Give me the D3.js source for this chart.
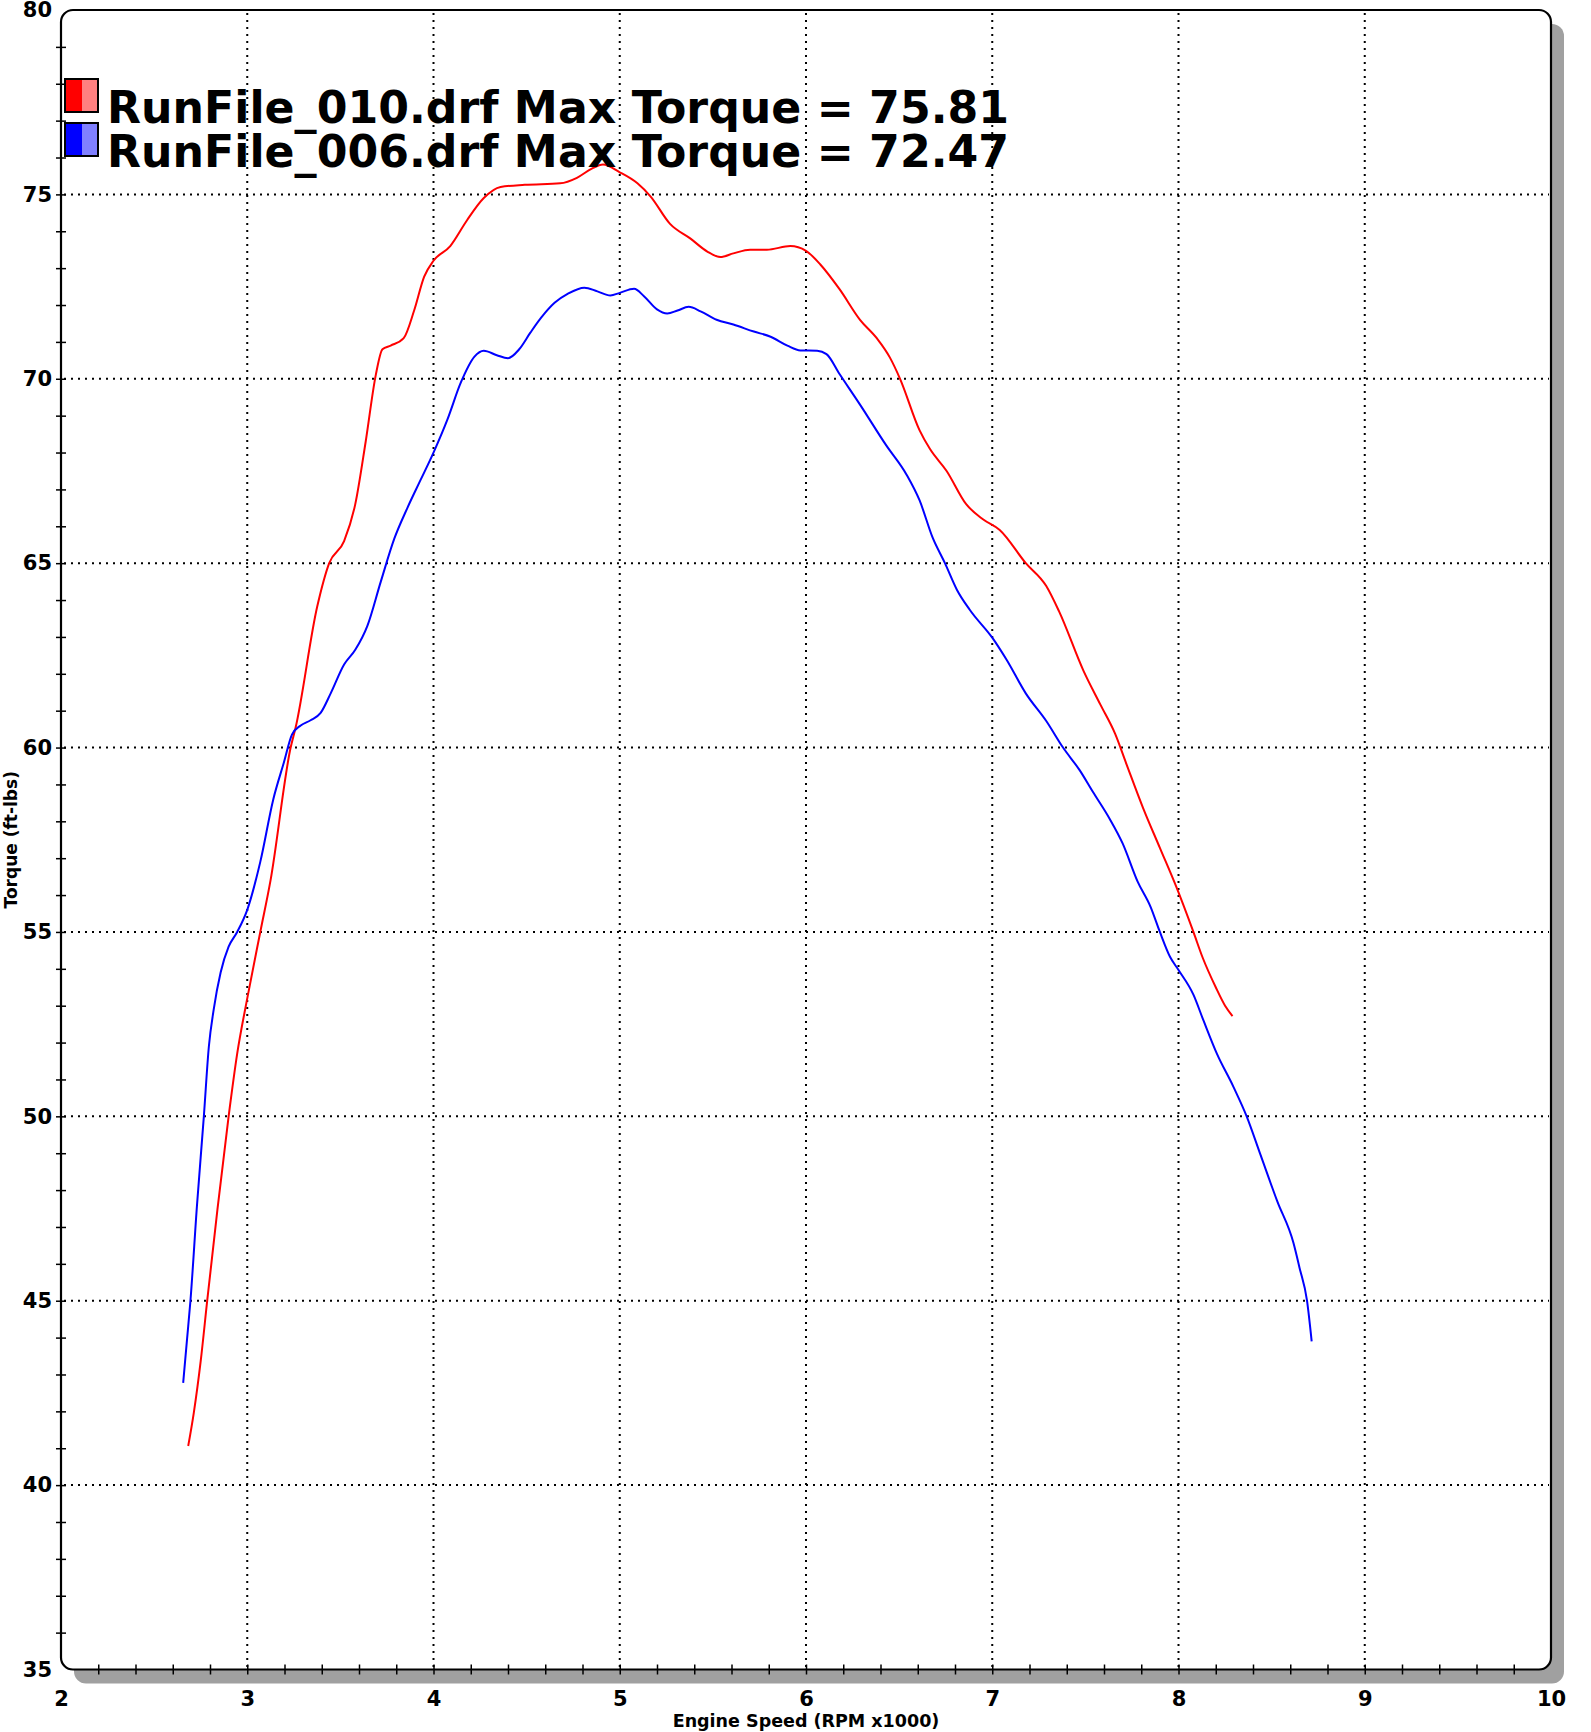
<!DOCTYPE html>
<html>
<head>
    <script src="https://d3js.org/d3.v7.min.js"></script>
    <style>
      body { margin: 0; background: #fff; }
      text { font-family: "DejaVu Sans", Verdana, sans-serif; font-weight: bold; }
    </style>
</head>
<body>

<script>
  var width = 1591;
  var height = 1732;

  // runs
  var runNames = ["RunFile_010.drf", "RunFile_006.drf"];
  var maxTorque = [75.81, 72.47];
  var runColors = ["#ff0000", "#0000ff"];
  var runLight = ["#ff8080", "#8080ff"];

  // RunFile_010 (red)
  var rpm010 = [2.683, 2.713, 2.75, 2.785, 2.84, 2.90, 2.946, 3.0, 3.07, 3.125, 3.233, 3.26, 3.376, 3.44,
    3.52, 3.58, 3.636, 3.69, 3.726, 3.77, 3.84, 3.896, 3.95, 4.0, 4.09, 4.18, 4.27, 4.36, 4.49, 4.68,
    4.77, 4.85, 4.91, 5.0, 5.095, 5.166, 5.27, 5.38, 5.47, 5.54, 5.61, 5.70, 5.79, 5.916, 6.0, 6.077,
    6.18, 6.29, 6.38, 6.45, 6.505, 6.61, 6.665, 6.755, 6.86, 6.95, 7.04, 7.18, 7.29, 7.36, 7.49, 7.58,
    7.66, 7.72, 7.81, 7.90, 7.99, 8.08, 8.13, 8.2, 8.25, 8.29];
  var tq010 = [41.06, 41.96, 43.36, 45.0, 47.48, 50.0, 51.7, 53.2, 55.0, 56.4, 60.0, 60.55, 63.83, 65.0,
    65.6, 66.6, 68.3, 70.1, 70.8, 70.9, 71.1, 71.85, 72.77, 73.2, 73.6, 74.3, 74.9, 75.2, 75.26, 75.3,
    75.45, 75.7, 75.81, 75.6, 75.3, 74.94, 74.2, 73.8, 73.45, 73.3, 73.4, 73.5, 73.5, 73.6, 73.47, 73.1,
    72.43, 71.6, 71.1, 70.58, 70.0, 68.6, 68.1, 67.5, 66.6, 66.19, 65.9, 65.0, 64.38, 63.68, 62.08, 61.17,
    60.37, 59.56, 58.36, 57.28, 56.2, 55.0, 54.3, 53.5, 53.0, 52.72];

  // RunFile_006 (blue)
  var rpm006 = [2.656, 2.677, 2.695, 2.73, 2.767, 2.794, 2.82, 2.857, 2.9, 2.946, 3.0, 3.07, 3.14, 3.197,
    3.24, 3.287, 3.34, 3.394, 3.448, 3.52, 3.58, 3.645, 3.717, 3.79, 3.86, 3.93, 4.0, 4.075, 4.147, 4.22,
    4.27, 4.34, 4.40, 4.46, 4.52, 4.577, 4.65, 4.72, 4.81, 4.88, 4.95, 5.0, 5.077, 5.13, 5.2, 5.255,
    5.31, 5.37, 5.434, 5.52, 5.61, 5.72, 5.81, 5.9, 5.97, 6.06, 6.11, 6.18, 6.29, 6.43, 6.54, 6.61,
    6.68, 6.746, 6.81, 6.88, 7.0, 7.077, 7.18, 7.29, 7.38, 7.47, 7.54, 7.63, 7.70, 7.78, 7.85, 7.90,
    7.955, 8.0, 8.08, 8.134, 8.206, 8.295, 8.366, 8.44, 8.53, 8.617, 8.65, 8.69, 8.715];
  var tq006 = [42.77, 43.97, 45.0, 47.58, 50.0, 51.9, 52.9, 53.9, 54.6, 55.0, 55.6, 56.9, 58.6, 59.6,
    60.35, 60.6, 60.74, 60.94, 61.47, 62.25, 62.65, 63.3, 64.5, 65.67, 66.5, 67.25, 68.0, 68.9, 69.9, 70.6,
    70.76, 70.64, 70.56, 70.8, 71.25, 71.65, 72.06, 72.3, 72.47, 72.37, 72.26, 72.33, 72.44, 72.24, 71.88, 71.77,
    71.85, 71.95, 71.83, 71.6, 71.47, 71.28, 71.14, 70.9, 70.77, 70.76, 70.67, 70.13, 69.3, 68.2, 67.4, 66.7,
    65.69, 65.0, 64.28, 63.73, 62.98, 62.38, 61.47, 60.72, 60.0, 59.38, 58.8, 58.07, 57.4, 56.37, 55.68, 55.0,
    54.32, 53.97, 53.3, 52.6, 51.7, 50.8, 50.0, 48.96, 47.7, 46.57, 45.89, 45.0, 43.9];

  var xTicks = [2, 3, 4, 5, 6, 7, 8, 9, 10];
  var yTicks = [35, 40, 45, 50, 55, 60, 65, 70, 75, 80];

  var svg = d3.select("body").append("svg")
    .attr("width", width)
    .attr("height", height);

  var x = d3.scaleLinear().domain([2, 10]).range([61, 1551]);
  var y = d3.scaleLinear().domain([35, 80]).range([1669.5, 10]);

  // note: "top" is taken by window.top, so prefix these
  var pLeft = x(2), pRight = x(10), pTop = y(80), pBottom = y(35);

  // shadow + frame
  svg.append("rect")
    .attr("x", pLeft + 13).attr("y", pTop + 14)
    .attr("width", pRight - pLeft).attr("height", pBottom - pTop)
    .attr("rx", 12).attr("ry", 12)
    .style("fill", "#a0a0a0");

  svg.append("rect")
    .attr("x", pLeft).attr("y", pTop)
    .attr("width", pRight - pLeft).attr("height", pBottom - pTop)
    .attr("rx", 12).attr("ry", 12)
    .style("fill", "#fff");

  // dotted grid
  svg.selectAll(".vgrid")
    .data(xTicks.slice(1, -1))
    .enter().append("line")
    .attr("class", "vgrid")
    .attr("x1", function(d) { return x(d); })
    .attr("x2", function(d) { return x(d); })
    .attr("y1", pTop + 3)
    .attr("y2", pBottom - 2)
    .style("stroke", "#000")
    .style("stroke-width", 2)
    .style("stroke-dasharray", "2,5");

  svg.selectAll(".hgrid")
    .data(yTicks.slice(1, -1))
    .enter().append("line")
    .attr("class", "hgrid")
    .attr("y1", function(d) { return y(d); })
    .attr("y2", function(d) { return y(d); })
    .attr("x1", pLeft + 3)
    .attr("x2", pRight - 2)
    .style("stroke", "#000")
    .style("stroke-width", 2)
    .style("stroke-dasharray", "2,5");

  // minor/major ticks crossing the axis lines
  var yTickG = svg.append("g")
    .attr("transform", "translate(" + pLeft + ",0)")
    .call(d3.axisLeft(y).tickValues(d3.range(36, 80)).tickFormat(""));
  yTickG.select(".domain").remove();
  yTickG.selectAll("line").attr("x1", -5).attr("x2", 5).style("stroke-width", 1.5);

  var xTickG = svg.append("g")
    .attr("transform", "translate(0," + pBottom + ")")
    .call(d3.axisBottom(x).tickValues(d3.range(2.2, 9.9, 0.2)).tickFormat(""));
  xTickG.select(".domain").remove();
  xTickG.selectAll("line").attr("y1", -5).attr("y2", 5).style("stroke-width", 1.5);

  // frame outline on top of the ticks
  svg.append("rect")
    .attr("x", pLeft).attr("y", pTop)
    .attr("width", pRight - pLeft).attr("height", pBottom - pTop)
    .attr("rx", 12).attr("ry", 12)
    .style("fill", "none")
    .style("stroke", "#000")
    .style("stroke-width", 2.2);

  // tick labels
  var yLab = svg.append("g")
    .attr("transform", "translate(" + pLeft + ",0)")
    .call(d3.axisLeft(y).tickValues(yTicks).tickSize(0).tickPadding(9).tickFormat(d3.format("d")));
  yLab.select(".domain").remove();
  yLab.selectAll("text").style("font-size", "21px").style("font-family", "'DejaVu Sans', Verdana, sans-serif")
    .style("font-weight", "bold").style("fill", "#000");

  var xLab = svg.append("g")
    .attr("transform", "translate(0," + pBottom + ")")
    .call(d3.axisBottom(x).tickValues(xTicks).tickSize(0).tickPadding(22).tickFormat(d3.format("d")));
  xLab.select(".domain").remove();
  xLab.selectAll("text").style("font-size", "21px").style("font-family", "'DejaVu Sans', Verdana, sans-serif")
    .style("font-weight", "bold").style("fill", "#000");

  // axis titles
  svg.append("text")
    .attr("x", (pLeft + pRight) / 2)
    .attr("y", 1727)
    .attr("text-anchor", "middle")
    .style("font-size", "17.5px")
    .text("Engine Speed (RPM x1000)");

  svg.append("text")
    .attr("transform", "translate(17," + ((pTop + pBottom) / 2) + ") rotate(-90)")
    .attr("text-anchor", "middle")
    .style("font-size", "17px")
    .text("Torque (ft-lbs)");

  // curves
  var runs = [
    { rpm: rpm010, tq: tq010 },
    { rpm: rpm006, tq: tq006 }
  ];

  var line = d3.line()
    .x(function(d) { return x(d[0]); })
    .y(function(d) { return y(d[1]); })
    .curve(d3.curveMonotoneX);

  runs.forEach(function(run, i) {
    var pts = run.rpm.map(function(r, k) { return [r, run.tq[k]]; });
    svg.append("path")
      .datum(pts)
      .attr("d", line)
      .style("fill", "none")
      .style("stroke", runColors[i])
      .style("stroke-width", 2);
  });

  // legend
  var legend = svg.selectAll(".legend")
    .data(runNames)
    .enter().append("g")
    .attr("class", "legend")
    .attr("transform", function(d, i) { return "translate(65," + (79 + i * 44) + ")"; });

  legend.append("rect")
    .attr("width", 17).attr("height", 33)
    .style("fill", function(d, i) { return runColors[i]; });
  legend.append("rect")
    .attr("x", 17).attr("width", 16).attr("height", 33)
    .style("fill", function(d, i) { return runLight[i]; });
  legend.append("rect")
    .attr("width", 33).attr("height", 33)
    .style("fill", "none")
    .style("stroke", "#000")
    .style("stroke-width", 2);

  legend.append("text")
    .attr("x", 42)
    .attr("y", 44)
    .attr("textLength", 902)
    .attr("lengthAdjust", "spacingAndGlyphs")
    .style("font-size", "45px")
    .text(function(d, i) { return d + " Max Torque = " + maxTorque[i].toFixed(2); });

</script>

</body>
</html>
